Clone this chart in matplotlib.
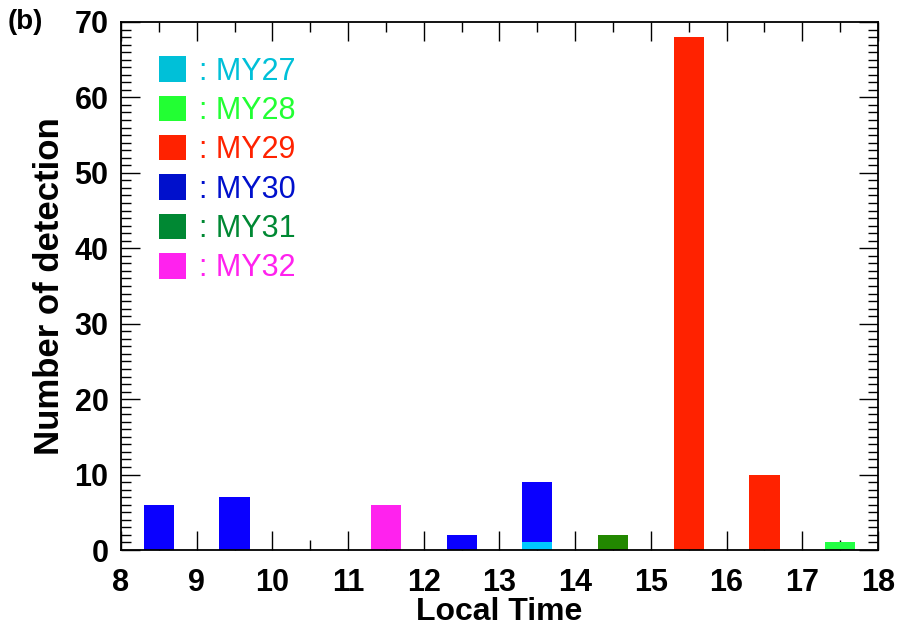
import matplotlib
matplotlib.use('Agg')
import matplotlib.pyplot as plt
from matplotlib.patches import Patch
from matplotlib.ticker import MultipleLocator

# local time bins (bar centres) and detections per Mars year
local_time = [8.5, 9.5, 10.5, 11.5, 12.5, 13.5, 14.5, 15.5, 16.5, 17.5]
years = ['MY27', 'MY28', 'MY29', 'MY30', 'MY31', 'MY32']
counts = {
    'MY27': [0, 0, 0, 0, 0, 1, 0, 0, 0, 0],
    'MY28': [0, 0, 0, 0, 0, 0, 0, 0, 0, 1],
    'MY29': [0, 0, 0, 0, 0, 0, 0, 68, 10, 0],
    'MY30': [6, 7, 0, 0, 2, 8, 0, 0, 0, 0],
    'MY31': [0, 0, 0, 0, 0, 0, 2, 0, 0, 0],
    'MY32': [0, 0, 0, 6, 0, 0, 0, 0, 0, 0],
}
bar_colors = {'MY27': '#00C8FF', 'MY28': '#22FF44', 'MY29': '#FF2200',
              'MY30': '#0A00FF', 'MY31': '#228800', 'MY32': '#FF22EE'}
legend_colors = {'MY27': '#00C0D8', 'MY28': '#22FF33', 'MY29': '#FF2200',
                 'MY30': '#0010CC', 'MY31': '#008833', 'MY32': '#FF22EE'}

plt.rcParams['font.family'] = ['Liberation Sans', 'DejaVu Sans']

fig = plt.figure(figsize=(8.97, 6.28), dpi=100)
ax = fig.add_axes([0.1349, 0.1242, 0.8439, 0.8408])

bottom = [0] * len(local_time)
for yr in years:
    ax.bar(local_time, counts[yr], width=0.4, bottom=bottom,
           color=bar_colors[yr], linewidth=0, zorder=2)
    bottom = [b + c for b, c in zip(bottom, counts[yr])]

ax.set_xlim(8, 18)
ax.set_ylim(0, 70)
ax.set_axisbelow(True)

ax.set_xticks(range(8, 19))
ax.xaxis.set_minor_locator(MultipleLocator(0.5))
ax.yaxis.set_major_locator(MultipleLocator(10))
ax.yaxis.set_minor_locator(MultipleLocator(1))

# IDL-style ticks: long every 2 h / 10 counts, short otherwise
ax.tick_params(which='both', direction='in', top=True, right=True, width=1)
ax.tick_params(which='major', length=7, labelsize=22)
ax.tick_params(which='minor', length=7)
ax.tick_params(axis='x', which='major', pad=13)
ax.tick_params(axis='y', which='major', pad=9)
for t in ax.xaxis.get_major_ticks():
    v = t.get_loc()
    size = 7 if v % 2 == 1 else 14
    t.tick1line.set_markersize(size)
    t.tick2line.set_markersize(size)
for t in ax.yaxis.get_major_ticks():
    t.tick1line.set_markersize(14)
    t.tick2line.set_markersize(14)
for lbl in ax.get_xticklabels() + ax.get_yticklabels():
    lbl.set_fontweight('bold')

for s in ax.spines.values():
    s.set_linewidth(1.3)

ax.set_xlabel('Local Time', fontsize=23, fontweight='bold', labelpad=-1)
ax.set_ylabel('Number of detection', fontsize=25, fontweight='bold', labelpad=6)

handles = [Patch(facecolor=legend_colors[yr], edgecolor='none') for yr in years]
leg = ax.legend(handles, [': ' + yr for yr in years], loc='upper left',
                bbox_to_anchor=(0.05, 0.935), borderaxespad=0, borderpad=0,
                frameon=False, fontsize=22,
                handlelength=0.9, handleheight=0.9, handletextpad=0.4,
                labelspacing=0.3)
for txt, yr in zip(leg.get_texts(), years):
    txt.set_color(legend_colors[yr])

fig.text(0.008, 0.985, '(b)', fontsize=20, fontweight='bold', va='top')

fig.savefig('out.png', dpi=100)
